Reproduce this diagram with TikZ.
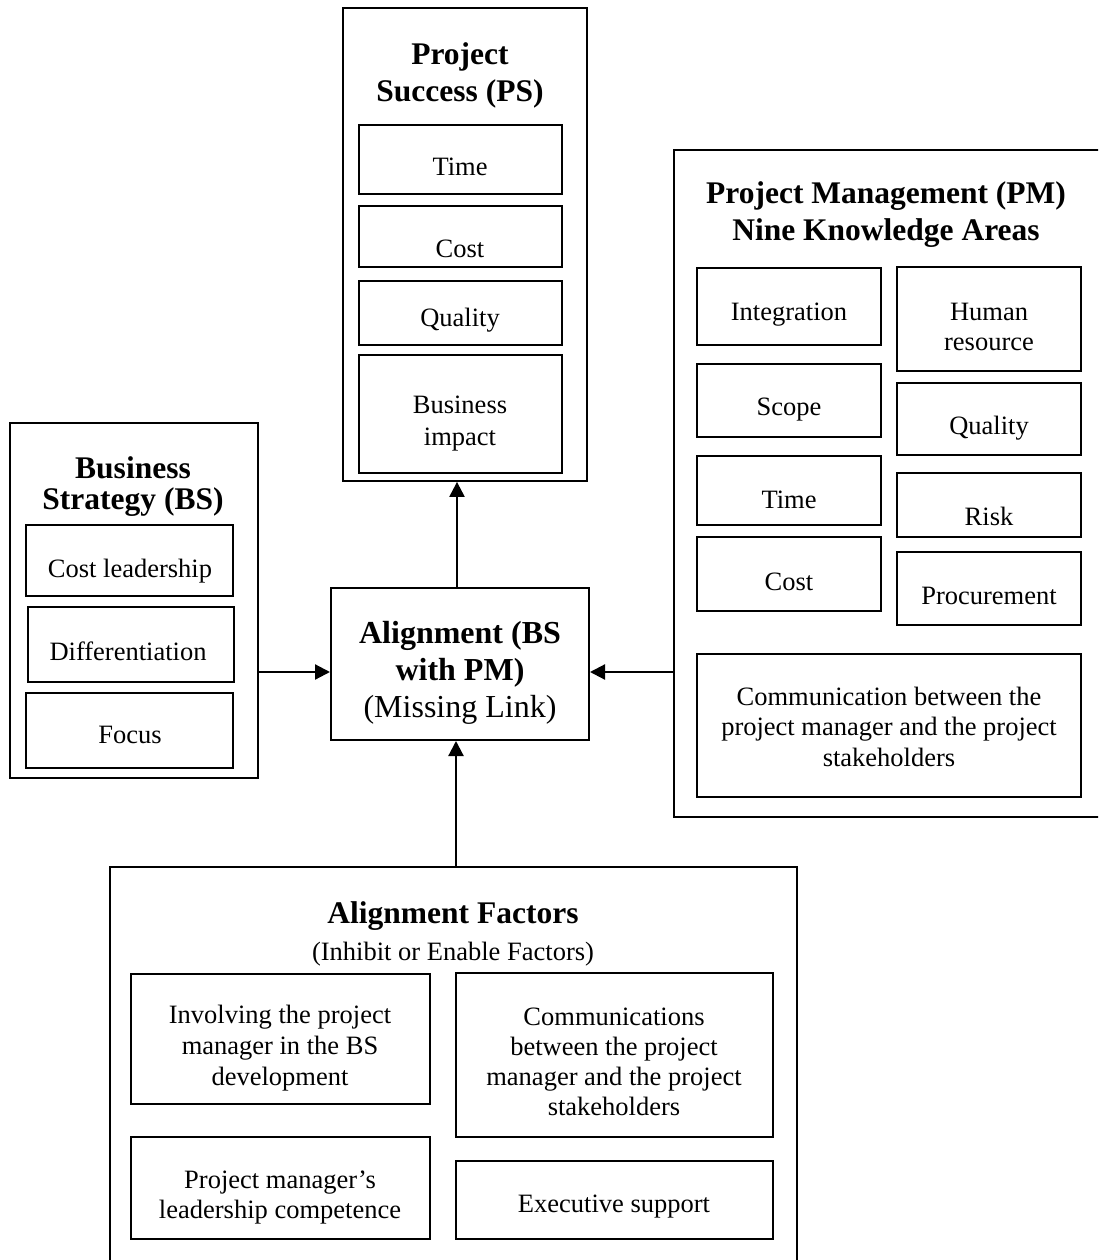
\documentclass[tikz,border=0pt]{standalone}
\usepackage{fontspec}
\setmainfont{Liberation Serif}
\usetikzlibrary{arrows.meta,fit}

\tikzset{
  outbox/.style={draw, line width=1.8pt, inner sep=0pt},
  inbox/.style={draw, line width=2pt, inner sep=0pt},
  txt/.style={font=\fontsize{26.5}{31}\selectfont, align=center, inner sep=0pt, anchor=base},
  ttl/.style={font=\fontsize{31.5}{37}\selectfont\bfseries, align=center, inner sep=0pt, anchor=base},
  arr/.style={line width=2.2pt, -{Triangle[length=15pt,width=15pt]}},
}

% rectangle from its top-left and bottom-right corners
\newcommand{\rectbox}[4]{%
  \coordinate (#2-a) at (#3);
  \coordinate (#2-b) at (#4);
  \node[#1, fit=(#2-a)(#2-b)] (#2) {};
}

\begin{document}
\begin{tikzpicture}[x=1pt, y=-1pt]
\useasboundingbox (0,0) rectangle (1098,1260);
\clip (0,0) rectangle (1098,1260);

% text nodes below are placed by the baseline of their last line

% Project Success
\rectbox{outbox}{ps}{343,8}{587,481}
\node[ttl] (pst) at (460,102) {Project\\Success (PS)};
\rectbox{inbox}{ps1}{359,125}{562,194}
\rectbox{inbox}{ps2}{359,206}{562,267}
\rectbox{inbox}{ps3}{359,281}{562,345}
\rectbox{inbox}{ps4}{359,355}{562,473}
\node[txt] (ps1t) at (460,176) {Time};
\node[txt] (ps2t) at (460,257) {Cost};
\node[txt] (ps3t) at (460,326) {Quality};
\node[txt, font=\fontsize{26.5}{32}\selectfont] (ps4t) at (460,445) {Business\\impact};

% Business Strategy
\rectbox{outbox}{bs}{10,423}{258,778}
\node[ttl, font=\fontsize{31.5}{31}\selectfont\bfseries] (bst) at (133,509) {Business\\Strategy (BS)};
\rectbox{inbox}{bs1}{26,525}{233,596}
\rectbox{inbox}{bs2}{28,607}{234,682}
\rectbox{inbox}{bs3}{26,693}{233,768}
\node[txt] (bs1t) at (130,577) {Cost leadership};
\node[txt] (bs2t) at (128,660) {Differentiation};
\node[txt] (bs3t) at (130,743) {Focus};

% Alignment
\rectbox{inbox}{al}{331,588}{589,740}
\node[txt, font=\fontsize{32}{37}\selectfont] (alt) at (460,717)
  {\textbf{Alignment (BS}\\\textbf{with PM)}\\(Missing Link)};

% Project Management knowledge areas
\rectbox{outbox}{pm}{674,150}{1110,817}
\node[ttl, font=\fontsize{31.5}{36}\selectfont\bfseries] (pmt) at (886,240)
  {Project Management (PM)\\Nine Knowledge Areas};
\rectbox{inbox}{pm1}{697,268}{881,345}
\rectbox{inbox}{pm2}{697,364}{881,437}
\rectbox{inbox}{pm3}{697,456}{881,525}
\rectbox{inbox}{pm4}{697,537}{881,611}
\rectbox{inbox}{pm5}{897,267}{1081,371}
\rectbox{inbox}{pm6}{897,383}{1081,455}
\rectbox{inbox}{pm7}{897,473}{1081,537}
\rectbox{inbox}{pm8}{897,552}{1081,625}
\rectbox{inbox}{pm9}{697,654}{1081,797}
\node[txt] (pm1t) at (789,320) {Integration};
\node[txt] (pm2t) at (789,415) {Scope};
\node[txt] (pm3t) at (789,508) {Time};
\node[txt] (pm4t) at (789,590) {Cost};
\node[txt, font=\fontsize{26.5}{30}\selectfont] (pm5t) at (989,350) {Human\\resource};
\node[txt] (pm6t) at (989,434) {Quality};
\node[txt] (pm7t) at (989,525) {Risk};
\node[txt] (pm8t) at (989,604) {Procurement};
\node[txt, font=\fontsize{26.5}{30.5}\selectfont] (pm9t) at (889,766)
  {Communication between the\\project manager and the project\\stakeholders};

% Alignment factors
\rectbox{outbox}{af}{110,867}{797,1275}
\node[ttl] (aft) at (453,923) {Alignment Factors};
\node[txt] (afs) at (453,960) {(Inhibit or Enable Factors)};
\rectbox{inbox}{af1}{131,974}{430,1104}
\rectbox{inbox}{af2}{456,973}{773,1137}
\rectbox{inbox}{af3}{131,1137}{430,1239}
\rectbox{inbox}{af4}{456,1161}{773,1239}
\node[txt] (af1t) at (280,1085) {Involving the project\\manager in the BS\\development};
\node[txt, font=\fontsize{26.5}{30}\selectfont] (af2t) at (614,1115)
  {Communications\\between the project\\manager and the project\\stakeholders};
\node[txt, font=\fontsize{26.5}{30}\selectfont] (af3t) at (280,1218)
  {Project manager’s\\leadership competence};
\node[txt] (af4t) at (614,1212) {Executive support};

% connectors
\coordinate (row) at (0,672);
\draw[arr] ([xshift=-3pt]al.north) -- ([xshift=-3pt]al.north |- ps.south);
\draw[arr] (bs.east |- row) -- (al.west |- row);
\draw[arr] (pm.west |- row) -- (al.east |- row);
\draw[arr] ([xshift=-4pt]al.south |- af.north) -- ([xshift=-4pt]al.south);
\end{tikzpicture}
\end{document}
